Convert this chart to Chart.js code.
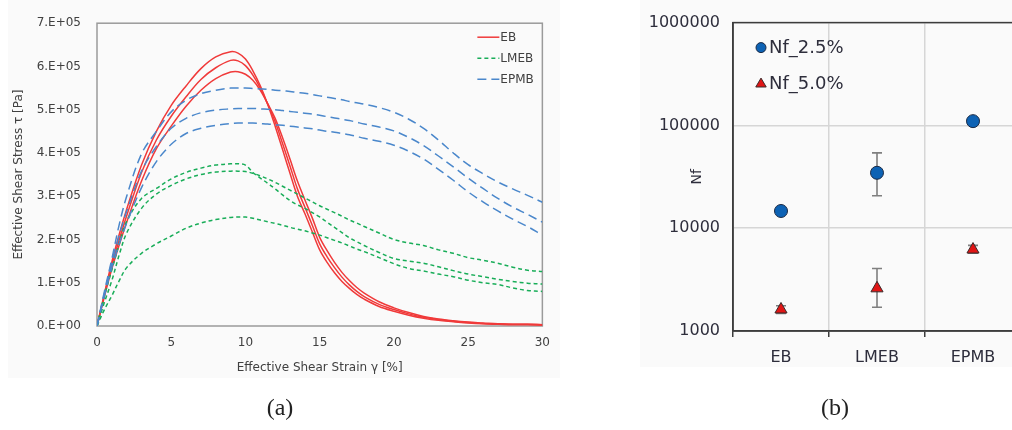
<!DOCTYPE html>
<html>
<head>
<meta charset="utf-8">
<script src="https://cdn.jsdelivr.net/npm/chart.js@4.4.1/dist/chart.umd.min.js"></script>
<style>
html,body{margin:0;padding:0;background:#fff;overflow:hidden;width:1012px;height:430px;}
#wrap{position:relative;width:1012px;height:430px;overflow:hidden;}
#ca{position:absolute;left:0;top:0;}
#cb{position:absolute;left:640px;top:0;}
.bg{position:absolute;background:#fafafa;}
.lab{position:absolute;top:394px;font-family:"Liberation Serif","DejaVu Serif",serif;font-size:24px;color:#222;transform:translateX(-50%);}
</style>
</head>
<body>
<div id="wrap">
  <div class="bg" style="left:8px;top:0;width:552px;height:378px;"></div>
  <div class="bg" style="left:640px;top:0;width:372px;height:367px;"></div>
  <canvas id="ca" width="560" height="400"></canvas>
  <canvas id="cb" width="400" height="400"></canvas>
  <div class="lab" style="left:280px;">(a)</div>
  <div class="lab" style="left:835px;">(b)</div>
</div>
<script>
// ---------- Panel (a) data : effective shear strain [%] vs stress [x1E5 Pa] ----------
const strain = [0,0.5,1,1.5,2,3,4,5,6,7,8,9,9.5,10,10.5,11,11.5,12,12.5,13,13.5,14,14.5,15,15.5,16,16.5,17,17.5,18,19,20,21,22,23,24,25,26,27,28,29,30];

const eb1 = [0,0.75,1.48,2.12,2.7,3.72,4.5,5.1,5.55,5.95,6.22,6.34,6.31,6.17,5.9,5.55,5.12,4.62,4.08,3.53,3.0,2.6,2.18,1.76,1.47,1.23,1.03,0.87,0.73,0.62,0.45,0.34,0.25,0.18,0.13,0.1,0.07,0.05,0.04,0.03,0.03,0.02];
const eb2 = [0,0.72,1.4,2.0,2.55,3.55,4.3,4.85,5.3,5.7,5.97,6.14,6.13,6.02,5.8,5.5,5.13,4.72,4.22,3.7,3.17,2.75,2.33,1.9,1.6,1.35,1.13,0.95,0.8,0.68,0.5,0.38,0.28,0.2,0.15,0.11,0.08,0.06,0.05,0.04,0.04,0.03];
const eb3 = [0,0.68,1.32,1.88,2.4,3.35,4.1,4.62,5.08,5.45,5.72,5.87,5.88,5.82,5.68,5.45,5.14,4.8,4.35,3.86,3.35,2.92,2.5,2.05,1.74,1.47,1.24,1.05,0.89,0.76,0.56,0.42,0.31,0.22,0.16,0.12,0.09,0.07,0.05,0.04,0.04,0.03];

const lmeb1 = [0,0.7,1.3,1.9,2.42,2.95,3.18,3.4,3.55,3.65,3.72,3.75,3.75,3.72,3.55,3.42,3.3,3.17,3.03,2.9,2.8,2.72,2.62,2.52,2.4,2.28,2.16,2.04,1.95,1.86,1.7,1.56,1.5,1.45,1.37,1.28,1.2,1.14,1.08,1.03,0.99,0.97];
const lmeb2 = [0,0.55,1.05,1.65,2.15,2.72,3.05,3.25,3.4,3.5,3.56,3.58,3.58,3.57,3.53,3.47,3.4,3.32,3.23,3.14,3.05,2.96,2.87,2.78,2.7,2.62,2.54,2.45,2.38,2.3,2.15,2.0,1.92,1.86,1.76,1.68,1.58,1.52,1.45,1.36,1.29,1.26];
const lmeb3 = [0,0.38,0.7,1.05,1.35,1.68,1.9,2.08,2.26,2.38,2.46,2.51,2.52,2.52,2.49,2.45,2.41,2.37,2.33,2.28,2.24,2.2,2.15,2.1,2.04,1.98,1.92,1.85,1.78,1.72,1.58,1.44,1.33,1.27,1.2,1.14,1.06,1.0,0.96,0.88,0.82,0.8];

const epmb1 = [0,0.8,1.55,2.35,3.0,3.98,4.5,4.95,5.22,5.37,5.45,5.5,5.5,5.5,5.49,5.48,5.47,5.45,5.44,5.42,5.4,5.38,5.35,5.32,5.29,5.26,5.23,5.19,5.16,5.13,5.05,4.94,4.78,4.57,4.3,4.0,3.73,3.52,3.33,3.17,3.02,2.86];
const epmb2 = [0,0.75,1.45,2.1,2.65,3.58,4.15,4.57,4.8,4.93,4.99,5.02,5.03,5.03,5.03,5.02,5.01,5.0,4.98,4.96,4.94,4.92,4.9,4.87,4.84,4.81,4.78,4.75,4.71,4.67,4.6,4.51,4.36,4.17,3.93,3.68,3.42,3.18,2.95,2.75,2.58,2.4];
const epmb3 = [0,0.7,1.35,1.9,2.38,3.2,3.8,4.2,4.45,4.57,4.64,4.68,4.69,4.69,4.69,4.68,4.67,4.65,4.64,4.62,4.6,4.58,4.56,4.53,4.5,4.48,4.45,4.42,4.38,4.34,4.27,4.18,4.04,3.86,3.62,3.37,3.1,2.87,2.66,2.47,2.3,2.1];

const yTickValsA = [0,1,2,3,4,5,6,7];
const yTickLabelsA = ['0.E+00','1.E+05','2.E+05','3.E+05','4.E+05','5.E+05','6.E+05','7.E+05'];
const xTickValsA = [0,5,10,15,20,25,30];
const xTickLabelsA = ['0','5','10','15','20','25','30'];
const seriesNamesA = ['EB','LMEB','EPMB'];

// ---------- Panel (b) data : fatigue life Nf ----------
const categories = ['EB','LMEB','EPMB'];
const nf25 = [14700, 34600, 110000];
const nf25Low = [14200, 20700, 106000];
const nf25High = [15200, 54000, 114000];
const nf50 = [1620, 2600, 6200];
const nf50Low = [1480, 1700, 5700];
const nf50High = [1760, 4050, 6800];
const yTickValsB = [1000, 10000, 100000, 1000000];
const yTickLabelsB = ['1000','10000','100000','1000000'];
const legendNamesB = ['Nf_2.5%','Nf_5.0%'];

// ---------- styling ----------
const RED = '#f03a3a', GREEN = '#18ad58', BLUE = '#4a87cb';
const FONT = '"DejaVu Sans", Verdana, sans-serif';
const TXT = '#404040';

function pts(ys){ return strain.map((x,i)=>({x:x, y:ys[i]})); }
function lineDs(label, ys, color, dash){
  return {label:label, data:pts(ys), borderColor:color, backgroundColor:color, borderWidth:1.5,
    borderDash:dash, pointRadius:0, tension:0.35, fill:false};
}

const framePlugin = {
  id:'frameBox',
  beforeDatasetsDraw(chart, args, opts){
    const a = chart.chartArea, c = chart.ctx;
    c.save(); c.strokeStyle = opts.color; c.lineWidth = opts.width;
    c.strokeRect(a.left, a.top, a.right-a.left, a.bottom-a.top); c.restore();
  }
};

const legendA = {
  id:'legendA',
  afterDatasetsDraw(chart){
    const a = chart.chartArea, c = chart.ctx;
    c.save();
    c.font = '12px ' + FONT; c.textBaseline = 'middle'; c.fillStyle = TXT;
    seriesNamesA.forEach((name,row)=>{
      const ds = chart.data.datasets.find(d=>d.label === name);
      const y = a.top + 14 + row*21;
      c.strokeStyle = ds.borderColor; c.lineWidth = 1.5; c.setLineDash(ds.borderDash||[]);
      c.beginPath(); c.moveTo(a.right-65, y); c.lineTo(a.right-43, y); c.stroke();
      c.setLineDash([]);
      c.fillText(name, a.right-42, y+0.5);
    });
    c.restore();
  }
};

const chartA = new Chart(document.getElementById('ca'), {
  type:'line',
  data:{ datasets:[
    lineDs(seriesNamesA[2], epmb1, BLUE, [9,5]),
    lineDs(seriesNamesA[2], epmb2, BLUE, [9,5]),
    lineDs(seriesNamesA[2], epmb3, BLUE, [9,5]),
    lineDs(seriesNamesA[1], lmeb1, GREEN, [4,3]),
    lineDs(seriesNamesA[1], lmeb2, GREEN, [4,3]),
    lineDs(seriesNamesA[1], lmeb3, GREEN, [4,3]),
    lineDs(seriesNamesA[0], eb1, RED, []),
    lineDs(seriesNamesA[0], eb2, RED, []),
    lineDs(seriesNamesA[0], eb3, RED, [])
  ] },
  options:{
    responsive:false, animation:false, devicePixelRatio:1,
    layout:{padding:{left:9, right:11, top:19, bottom:21}},
    plugins:{ legend:{display:false}, tooltip:{enabled:false}, frameBox:{color:'#9a9a9a', width:1.5} },
    scales:{
      x:{ type:'linear', min:0, max:30,
        afterBuildTicks(s){ s.ticks = xTickValsA.map(v=>({value:v})); },
        afterFit(s){ s.height = 53; },
        grid:{display:false, drawTicks:false}, border:{display:false},
        ticks:{ padding:10, color:TXT, font:{family:FONT, size:12}, maxRotation:0,
          callback:(v,i)=>xTickLabelsA[i] },
        title:{ display:true, text:'Effective Shear Strain γ [%]', color:TXT, font:{family:FONT, size:12}, padding:{top:4,bottom:4} }
      },
      y:{ type:'linear', min:0, max:7,
        afterBuildTicks(s){ s.ticks = yTickValsA.map(v=>({value:v})); },
        afterFit(s){ s.width = 88; },
        grid:{display:false, drawTicks:false}, border:{display:false},
        ticks:{ padding:16, color:TXT, font:{family:FONT, size:12}, callback:(v,i)=>yTickLabelsA[i] },
        title:{ display:true, text:'Effective Shear Stress τ [Pa]', color:TXT, font:{family:FONT, size:12}, padding:{top:3,bottom:4} }
      }
    }
  },
  plugins:[framePlugin, legendA]
});

// ---------- Panel (b) ----------
function drawTri(c, x, y, r){
  c.beginPath();
  c.moveTo(x, y - r);
  c.lineTo(x + r*0.95, y + r*0.62);
  c.lineTo(x - r*0.95, y + r*0.62);
  c.closePath(); c.fill(); c.stroke();
}

const errorBars = {
  id:'errorBars',
  beforeDatasetsDraw(chart, args, opts){
    const c = chart.ctx, xs = chart.scales.x, ys = chart.scales.y;
    c.save(); c.strokeStyle = opts.color; c.lineWidth = 1.6;
    opts.sets.forEach(set=>{
      set.low.forEach((lo,i)=>{
        const x = xs.getPixelForValue(i);
        const y1 = ys.getPixelForValue(lo), y2 = ys.getPixelForValue(set.high[i]);
        c.beginPath(); c.moveTo(x,y1); c.lineTo(x,y2);
        c.moveTo(x-5,y1); c.lineTo(x+5,y1); c.moveTo(x-5,y2); c.lineTo(x+5,y2); c.stroke();
      });
    });
    c.restore();
  }
};

const legendB = {
  id:'legendB',
  afterDatasetsDraw(chart){
    const a = chart.chartArea, c = chart.ctx;
    c.save();
    c.font = '18px ' + FONT; c.textBaseline = 'middle';
    chart.data.datasets.forEach((ds,k)=>{
      const x = a.left + 28, y = a.top + 25 + k*36;
      c.fillStyle = ds.backgroundColor; c.strokeStyle = ds.borderColor; c.lineWidth = 1;
      if(ds.pointStyle === 'triangle'){ drawTri(c, x, y, 5.5); }
      else { c.beginPath(); c.arc(x, y, 5, 0, Math.PI*2); c.fill(); c.stroke(); }
      c.fillStyle = '#2e2e3c';
      c.fillText(ds.label, x + 8, y + 1);
    });
    c.restore();
  }
};

const chartB = new Chart(document.getElementById('cb'), {
  type:'line',
  data:{ labels:categories, datasets:[
    {label:legendNamesB[0], data:nf25, showLine:false, pointStyle:'circle', pointRadius:6.5,
     backgroundColor:'#0d62b4', borderColor:'#1b2a44', borderWidth:1},
    {label:legendNamesB[1], data:nf50, showLine:false, pointStyle:'triangle', pointRadius:7,
     backgroundColor:'#e01515', borderColor:'#3a2a2a', borderWidth:1}
  ]},
  options:{
    responsive:false, animation:false, devicePixelRatio:1,
    layout:{padding:{left:2, right:19, top:21, bottom:29}},
    plugins:{ legend:{display:false}, tooltip:{enabled:false},
      frameBox:{color:'#3c3c3c', width:1.5},
      errorBars:{color:'#7f7f7f', sets:[{low:nf25Low, high:nf25High},{low:nf50Low, high:nf50High}]} },
    scales:{
      x:{ type:'category', offset:true,
        afterFit(s){ s.height = 40; },
        grid:{ display:true, offset:true, color:'#d6d6d6', tickColor:'#3c3c3c', tickLength:6, drawTicks:true, lineWidth:1.5 },
        border:{display:true, color:'#3c3c3c', width:1.5},
        ticks:{ padding:11, color:'#2e2e3c', font:{family:FONT, size:16} }
      },
      y:{ type:'logarithmic', min:1000, max:1000000,
        afterBuildTicks(s){ s.ticks = yTickValsB.map(v=>({value:v})); },
        afterFit(s){ s.width = 91; },
        grid:{ display:true, drawTicks:false, color:'#d6d6d6', lineWidth:1.5 },
        border:{display:true, color:'#3c3c3c', width:1.5},
        ticks:{ padding:13, color:'#2e2e3c', font:{family:FONT, size:16}, callback:(v,i)=>yTickLabelsB[i] },
        title:{ display:true, text:'Nf', color:'#2e2e3c', font:{family:FONT, size:14}, padding:{top:47,bottom:4} }
      }
    }
  },
  plugins:[framePlugin, errorBars, legendB]
});
</script>
</body>
</html>
